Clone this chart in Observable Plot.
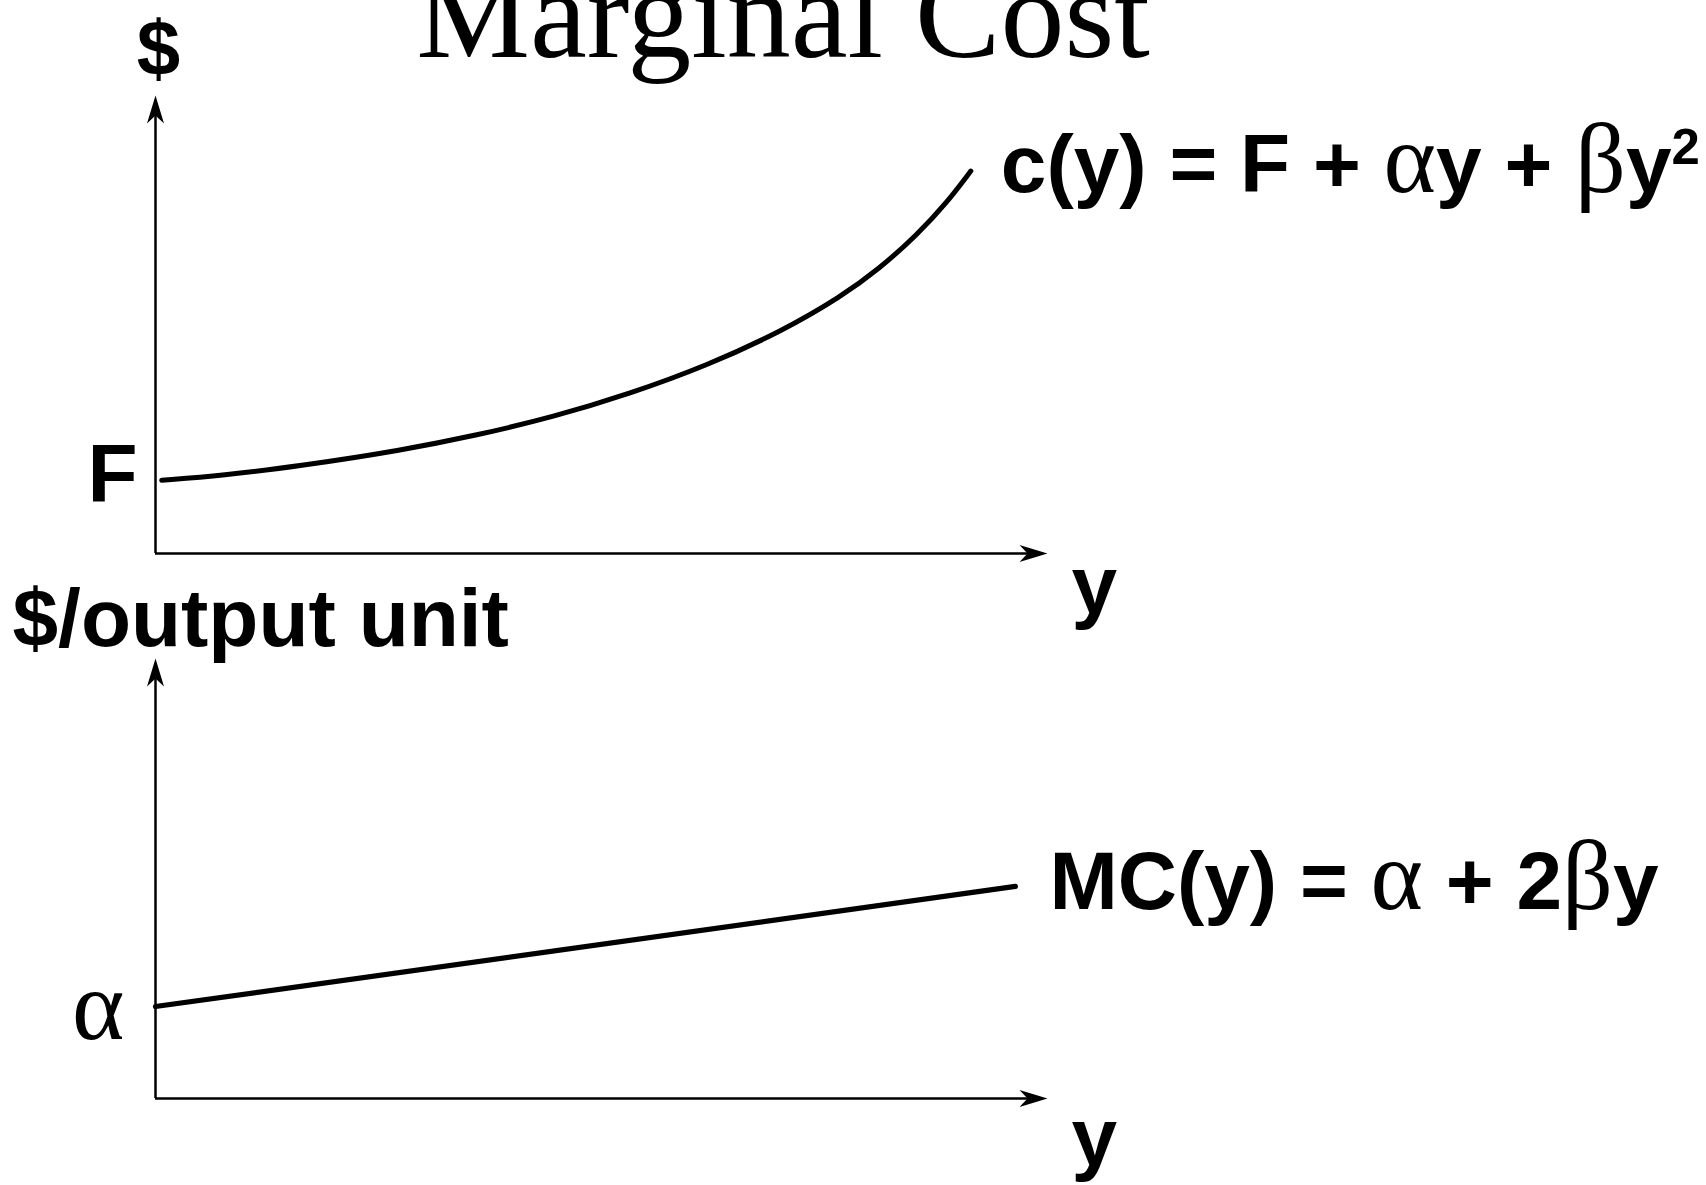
<!DOCTYPE html>
<html>
<head>
<meta charset="utf-8">
<script src="https://cdn.jsdelivr.net/npm/d3@7"></script>
<script src="https://cdn.jsdelivr.net/npm/@observablehq/plot@0.6"></script>
<style>
  html, body { margin: 0; padding: 0; background: #fff; }
  #wrap { position: relative; width: 1706px; height: 1185px; overflow: hidden; background: #fff; }
  #title { position: absolute; left: 0; width: 1566px; top: -50px; text-align: center;
           font-family: "Liberation Serif", "Times New Roman", serif; font-size: 128px; line-height: 128px; color: #000; white-space: nowrap; }
  .panel { position: absolute; left: 0; }
</style>
</head>
<body>
<div id="wrap">
  <div id="title">Marginal Cost</div>
</div>
<script>
// ---- data ----
const titleText = "Marginal Cost";
// total cost curve c(y): output quantity vs cost (axis units: quantity 0..10, $ 0..100)
const quantity  = [0.07, 0.74, 1.65, 2.75, 3.60, 4.46, 5.32, 6.18, 7.04, 7.68, 8.11, 8.54, 8.88, 9.14];
const totalCost = [16.0, 17.0, 19.2, 22.5, 25.8, 29.8, 34.9, 41.0, 48.7, 56.0, 62.1, 69.6, 76.8, 83.5];
// marginal cost line MC(y)
const mcQuantity = [0, 9.64];
const marginalCost = [20.9, 48.2];
// labels
const fixedCostValue = 16.0;
const alphaValue = 20.9;
const costFormula = "c(y) = F + αy + βy²";
const mcFormula = "MC(y) = α + 2βy";
const topAxisY = "$";
const bottomAxisY = "$/output unit";
const xAxisName = "y";
const fixedCostName = "F";
const alphaName = "α";

const SANS = "'Liberation Sans', Arial, Helvetica, sans-serif";
const SERIF = "'Liberation Serif', 'Times New Roman', serif";

const costData = quantity.map((q, i) => ({q, c: totalCost[i]}));
const mcData = mcQuantity.map((q, i) => ({q, c: marginalCost[i]}));

// arrowheads as custom symbols (tip at the data point)
const arrowUp = {draw(ctx) { ctx.moveTo(0, 0); ctx.lineTo(8.5, 28); ctx.lineTo(0, 20); ctx.lineTo(-8.5, 28); ctx.closePath(); }};
const arrowRight = {draw(ctx) { ctx.moveTo(0, 0); ctx.lineTo(-28, 8.5); ctx.lineTo(-20, 0); ctx.lineTo(-28, -8.5); ctx.closePath(); }};

function axesMarks() {
  return [
    Plot.ruleX([0], {y1: 0, y2: 97, stroke: "black", strokeWidth: 2.5}),
    Plot.ruleY([0], {x1: 0, x2: 9.8, stroke: "black", strokeWidth: 2.5}),
    Plot.dot([{q: 0, c: 100}], {x: "q", y: "c", symbol: arrowUp, fill: "black", stroke: "none", r: 5}),
    Plot.dot([{q: 10, c: 0}], {x: "q", y: "c", symbol: arrowRight, fill: "black", stroke: "none", r: 5})
  ];
}

function svgEl(name) { return document.createElementNS("http://www.w3.org/2000/svg", name); }

// Greek letters in a serif face, superscript two as a raised small digit
function styleText(svg) {
  svg.querySelectorAll("text").forEach(t => {
    const s = t.textContent;
    if (!/[αβ²]/.test(s)) return;
    t.textContent = "";
    for (const part of s.split(/([αβ²])/)) {
      if (!part) continue;
      const ts = svgEl("tspan");
      if (part === "²") {
        ts.textContent = "2";
        ts.style.fontSize = "62%";
        ts.setAttribute("dy", "-0.56em");
      } else {
        ts.textContent = part;
        if (/[αβ]/.test(part)) {
          ts.setAttribute("font-family", SERIF);
          ts.setAttribute("font-weight", "normal");
          ts.style.fontSize = "122%";
        }
      }
      t.appendChild(ts);
    }
  });
}

const common = {
  width: 1706,
  marginLeft: 155,
  marginRight: 659,
  x: {domain: [0, 10], axis: null},
  style: {background: "transparent", overflow: "visible"}
};

// ---- top panel: total cost ----
const costPlot = Plot.plot({
  ...common,
  height: 640,
  marginTop: 95,
  marginBottom: 87,
  y: {domain: [0, 100], axis: null},
  marks: [
    ...axesMarks(),
    Plot.line(costData, {x: "q", y: "c", curve: "basis", stroke: "black", strokeWidth: 5, strokeLinecap: "round"}),
    Plot.text([topAxisY], {x: () => 0, y: () => 100, text: d => d, fontFamily: SANS, fontWeight: "bold", fontSize: 78, textAnchor: "middle", lineAnchor: "bottom", dx: 3, dy: -21, fill: "black"}),
    Plot.text([fixedCostName], {x: () => 0, y: () => fixedCostValue, text: d => d, fontFamily: SANS, fontWeight: "bold", fontSize: 82, textAnchor: "end", lineAnchor: "bottom", dx: -18, dy: 22, fill: "black"}),
    Plot.text([xAxisName], {x: () => 10, y: () => 0, text: d => d, fontFamily: SANS, fontWeight: "bold", fontSize: 82, textAnchor: "start", lineAnchor: "bottom", dx: 24, dy: 59, fill: "black"}),
    Plot.text([costFormula], {x: () => quantity[quantity.length - 1], y: () => totalCost[totalCost.length - 1], text: d => d, fontFamily: SANS, fontWeight: "bold", fontSize: 82, textAnchor: "start", lineAnchor: "bottom", dx: 30, dy: 21, fill: "black"})
  ]
});
costPlot.classList.add("panel");
costPlot.style.top = "0px";

// ---- bottom panel: marginal cost ----
const mcPlot = Plot.plot({
  ...common,
  height: 625,
  marginTop: 98,
  marginBottom: 87,
  y: {domain: [0, 100], axis: null},
  marks: [
    ...axesMarks(),
    Plot.line(mcData, {x: "q", y: "c", stroke: "black", strokeWidth: 5.2}),
    Plot.text([bottomAxisY], {x: () => 0, y: () => 100, text: d => d, fontFamily: SANS, fontWeight: "bold", fontSize: 82, textAnchor: "start", lineAnchor: "bottom", dx: -143, dy: -13, fill: "black"}),
    Plot.text([alphaName], {x: () => 0, y: () => alphaValue, text: d => d, fontFamily: SANS, fontSize: 82, textAnchor: "end", lineAnchor: "bottom", dx: -31, dy: 32, fill: "black"}),
    Plot.text([xAxisName], {x: () => 10, y: () => 0, text: d => d, fontFamily: SANS, fontWeight: "bold", fontSize: 82, textAnchor: "start", lineAnchor: "bottom", dx: 24, dy: 66, fill: "black"}),
    Plot.text([mcFormula], {x: () => mcQuantity[1], y: () => marginalCost[1], text: d => d, fontFamily: SANS, fontWeight: "bold", fontSize: 82, textAnchor: "start", lineAnchor: "bottom", dx: 34, dy: 23, fill: "black"})
  ]
});
mcPlot.classList.add("panel");
mcPlot.style.top = "560px";

styleText(costPlot);
styleText(mcPlot);

const wrap = document.getElementById("wrap");
wrap.appendChild(costPlot);
wrap.appendChild(mcPlot);
document.getElementById("title").textContent = titleText;
</script>
</body>
</html>
